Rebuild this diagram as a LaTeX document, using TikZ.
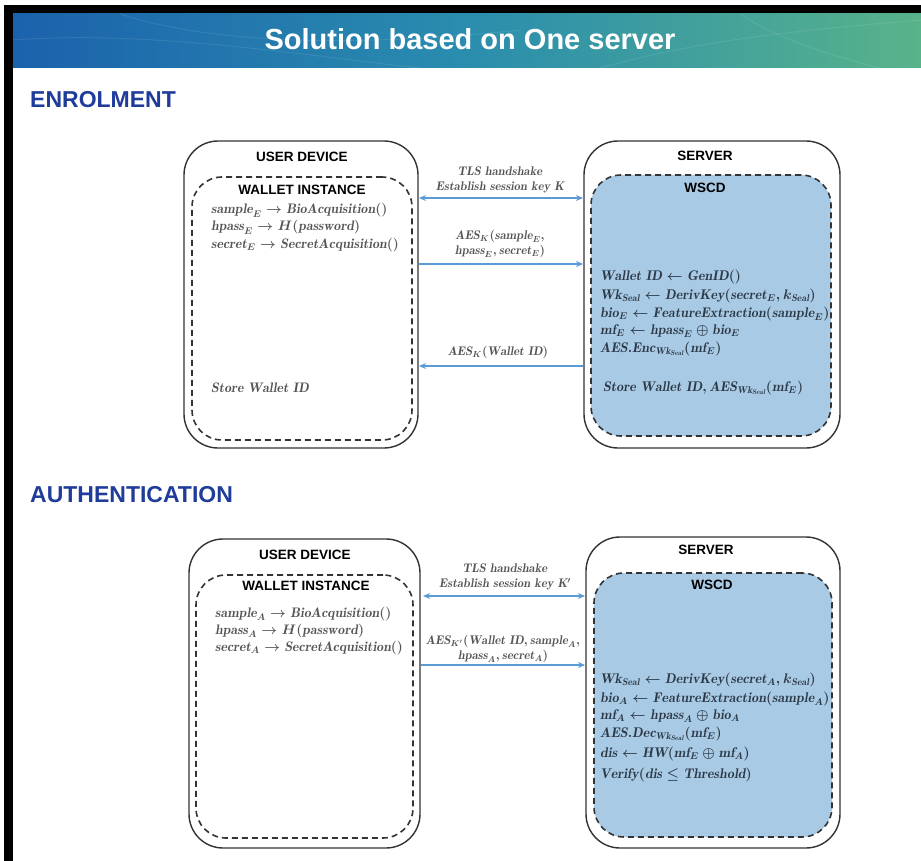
\documentclass[tikz,border=0pt]{standalone}
\usepackage{fix-cm}
\usepackage{fontspec}
\newfontfamily\hsans{Liberation Sans}
\usetikzlibrary{arrows.meta}
\definecolor{hdrblue}{HTML}{1B62AC}
\definecolor{hdrmid}{HTML}{2A8DAE}
\definecolor{hdrgreen}{HTML}{58B38A}
\definecolor{secblue}{HTML}{1F3C9A}
\definecolor{wscdfill}{HTML}{A9CAE5}
\definecolor{arrblue}{HTML}{5B9BD5}
\definecolor{boxline}{HTML}{333333}
\definecolor{txtgray}{HTML}{555555}
\definecolor{srvtxt}{HTML}{2C3A48}
\begin{document}
\begin{tikzpicture}[x=1pt,y=-1pt,
  outerbox/.style={draw=boxline, line width=1.4pt, rounded corners=34pt, fill=white, inner sep=0pt},
  innerbox/.style={draw=boxline, line width=1.6pt, dash pattern=on 6pt off 4pt, rounded corners=30pt, inner sep=0pt},
  wscdbox/.style={innerbox, fill=wscdfill},
  boxtitle/.style={font=\hsans\bfseries\fontsize{13.5}{15}\selectfont, text=black, inner sep=0pt},
  sectitle/.style={font=\hsans\bfseries\fontsize{23}{26}\selectfont, text=secblue, anchor=west, inner sep=0pt},
  usertxt/.style={anchor=west, inner sep=0pt, text=txtgray, font=\fontsize{13.8}{15}\selectfont\boldmath, text height=8pt, text depth=2pt},
  srvline/.style={anchor=west, inner sep=0pt, text=srvtxt, font=\fontsize{14}{16}\selectfont\boldmath, text height=9pt, text depth=3pt},
  arrlabel/.style={inner sep=0pt, text=txtgray, font=\fontsize{12.5}{15}\selectfont\boldmath, align=center},
  arr/.style={draw=arrblue, line width=1.3pt, -{Stealth[length=7pt,width=6pt]}},
  darr/.style={draw=arrblue, line width=1.3pt, {Stealth[length=7pt,width=6pt]}-{Stealth[length=7pt,width=6pt]}}
]
\useasboundingbox (0,0) rectangle (921,861);
% frame
\fill[white] (0,0) rectangle (921,861);
\fill[black] (4,5) rectangle (921,861);
\fill[white] (13,14) rectangle (921,861);
% header
\fill[left color=hdrblue, right color=hdrgreen, middle color=hdrmid] (13,14) rectangle (921,68);
\begin{scope}[draw=white, opacity=0.09, line width=1pt]
  \draw (13,40) .. controls (150,30) and (300,55) .. (420,68);
  \draw (120,14) .. controls (200,40) and (330,50) .. (520,30);
  \draw (600,68) .. controls (700,40) and (800,30) .. (921,20);
  \draw (740,14) .. controls (780,40) and (830,55) .. (880,68);
\end{scope}
\node[font=\hsans\bfseries\fontsize{29}{32}\selectfont, text=white, inner sep=0pt] (title) at (470,39) {Solution based on One server};

% ===== ENROLMENT =====
\node[sectitle] (enrol) at (30,100) {ENROLMENT};

\node[outerbox, minimum width=234pt, minimum height=307pt] (udE) at (301,294.5) {};
\node[innerbox, minimum width=220pt, minimum height=263pt] (wiE) at (302,308.5) {};
\node[boxtitle] (udEt) at (302,157) {USER DEVICE};
\node[boxtitle] (wiEt) at (302,190) {WALLET INSTANCE};
\node[usertxt] (ue1) at (211,211) {$\mathit{sample}_E \rightarrow \mathit{BioAcquisition}()$};
\node[usertxt] (ue2) at (211,228) {$\mathit{hpass}_E \rightarrow H(\mathit{password})$};
\node[usertxt] (ue3) at (211,245) {$\mathit{secret}_E \rightarrow \mathit{SecretAcquisition}()$};
\node[usertxt] (ue4) at (211,389) {$\mathit{Store\ Wallet\ ID}$};

\node[outerbox, minimum width=256pt, minimum height=307pt] (svE) at (712,294.5) {};
\node[wscdbox, minimum width=240pt, minimum height=261pt] (wsE) at (711,305.5) {};
\node[boxtitle] (svEt) at (705,156) {SERVER};
\node[boxtitle] (wsEt) at (705,188) {WSCD};
\node[srvline] (se1) at (600,277) {$\mathit{Wallet\ ID} \leftarrow \mathit{GenID}()$};
\node[srvline] (se2) at (600,296) {$\mathit{Wk}_{\mathit{Seal}} \leftarrow \mathit{DerivKey}(\mathit{secret}_E, k_{\mathit{Seal}})$};
\node[srvline] (se3) at (600,314) {$\mathit{bio}_E \leftarrow \mathit{FeatureExtraction}(\mathit{sample}_E)$};
\node[srvline] (se4) at (600,331) {$\mathit{mf}_E \leftarrow \mathit{hpass}_E \oplus \mathit{bio}_E$};
\node[srvline] (se5) at (600,349) {$\mathit{AES.Enc}_{\mathit{Wk}_{\mathit{Seal}}}(\mathit{mf}_E)$};
\node[srvline] (se6) at (603,388) {$\mathit{Store\ Wallet\ ID}, \mathit{AES}_{\mathit{Wk}_{\mathit{Seal}}}(\mathit{mf}_E)$};

\coordinate (a1l) at (419,198);
\coordinate (a1r) at (583,198);
\coordinate (a2l) at (419,264);
\coordinate (a2r) at (583,264);
\coordinate (a3l) at (419,366);
\coordinate (a3r) at (583,366);
\draw[darr] (a1l) -- (a1r);
\draw[arr] (a2l) -- (a2r);
\draw[arr] (a3r) -- (a3l);
\node[arrlabel] (l1) at (500,180) {$\mathit{TLS\ handshake}$\\$\mathit{Establish\ session\ key\ K}$};
\node[arrlabel] (l2) at (500,244) {$\mathit{AES}_K(\mathit{sample}_E,$\\$\mathit{hpass}_E, \mathit{secret}_E)$};
\node[arrlabel] (l3) at (498,352) {$\mathit{AES}_K(\mathit{Wallet\ ID})$};

% ===== AUTHENTICATION =====
\node[sectitle] (auth) at (30,495) {AUTHENTICATION};

\node[outerbox, minimum width=231pt, minimum height=309pt] (udA) at (304.5,693.5) {};
\node[innerbox, minimum width=217pt, minimum height=263pt] (wiA) at (304.5,706.5) {};
\node[boxtitle] (udAt) at (305,555) {USER DEVICE};
\node[boxtitle] (wiAt) at (306,586) {WALLET INSTANCE};
\node[usertxt] (ua1) at (215,614) {$\mathit{sample}_A \rightarrow \mathit{BioAcquisition}()$};
\node[usertxt] (ua2) at (215,631) {$\mathit{hpass}_A \rightarrow H(\mathit{password})$};
\node[usertxt] (ua3) at (215,648) {$\mathit{secret}_A \rightarrow \mathit{SecretAcquisition}()$};

\node[outerbox, minimum width=254pt, minimum height=311pt] (svA) at (713,692.5) {};
\node[wscdbox, minimum width=238pt, minimum height=264pt] (wsA) at (713,705) {};
\node[boxtitle] (svAt) at (706,550) {SERVER};
\node[boxtitle] (wsAt) at (712,585) {WSCD};
\node[srvline] (sa1) at (600,680) {$\mathit{Wk}_{\mathit{Seal}} \leftarrow \mathit{DerivKey}(\mathit{secret}_A, k_{\mathit{Seal}})$};
\node[srvline] (sa2) at (600,699) {$\mathit{bio}_A \leftarrow \mathit{FeatureExtraction}(\mathit{sample}_A)$};
\node[srvline] (sa3) at (600,716) {$\mathit{mf}_A \leftarrow \mathit{hpass}_A \oplus \mathit{bio}_A$};
\node[srvline] (sa4) at (600,734) {$\mathit{AES.Dec}_{\mathit{Wk}_{\mathit{Seal}}}(\mathit{mf}_E)$};
\node[srvline] (sa5) at (600,754) {$\mathit{dis} \leftarrow \mathit{HW}(\mathit{mf}_E \oplus \mathit{mf}_A)$};
\node[srvline] (sa6) at (600,775) {$\mathit{Verify}(\mathit{dis} \leq \mathit{Threshold})$};

\coordinate (b1l) at (423,596);
\coordinate (b1r) at (585,596);
\coordinate (b2l) at (421,665);
\coordinate (b2r) at (585,665);
\draw[darr] (b1l) -- (b1r);
\draw[arr] (b2l) -- (b2r);
\node[arrlabel] (m1) at (505,577) {$\mathit{TLS\ handshake}$\\$\mathit{Establish\ session\ key\ K'}$};
\node[arrlabel] (m2) at (503,649) {$\mathit{AES}_{K'}(\mathit{Wallet\ ID}, \mathit{sample}_A,$\\$\mathit{hpass}_A, \mathit{secret}_A)$};
\end{tikzpicture}
\end{document}
